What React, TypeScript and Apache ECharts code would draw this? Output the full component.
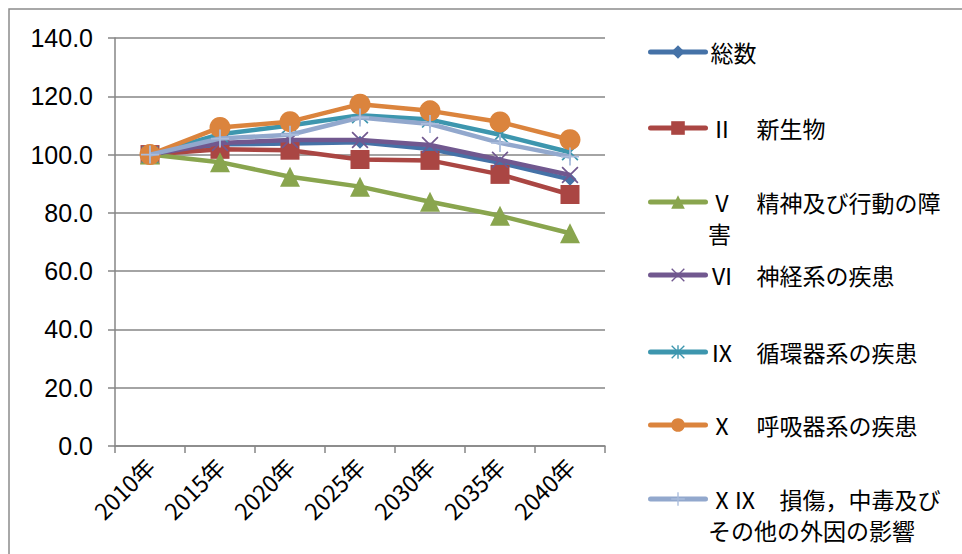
import React, { useEffect, useRef } from "react";
import * as echarts from "echarts";

const categories = ["2010年", "2015年", "2020年", "2025年", "2030年", "2035年", "2040年"];
const yTicks = [0, 20, 40, 60, 80, 100, 120, 140];

const seriesNames = [
  "総数",
  "Ⅱ　新生物",
  "Ⅴ　精神及び行動の障害",
  "Ⅵ　神経系の疾患",
  "Ⅸ　循環器系の疾患",
  "Ⅹ　呼吸器系の疾患",
  "ⅩⅨ　損傷，中毒及びその他の外因の影響",
];
const legendFirstLines = [
  "総数",
  "Ⅱ　新生物",
  "Ⅴ　精神及び行動の障",
  "Ⅵ　神経系の疾患",
  "Ⅸ　循環器系の疾患",
  "Ⅹ　呼吸器系の疾患",
  "ⅩⅨ　損傷，中毒及び",
];
const legendSecondLines = ["", "", "害", "", "", "", "その他の外因の影響"];

const totalValues = [100, 103.5, 103.8, 104.2, 101.9, 97.2, 91.5];
const neoplasmValues = [100, 101.8, 101.5, 98.3, 98.0, 93.2, 86.3];
const mentalValues = [100, 97.4, 92.4, 89.0, 83.8, 79.0, 73.0];
const nervousValues = [100, 104.0, 105.0, 105.0, 103.3, 98.2, 93.0];
const circulatoryValues = [100, 107.0, 110.0, 113.5, 112.0, 106.8, 100.8];
const respiratoryValues = [100, 109.3, 111.3, 117.3, 115.0, 111.2, 105.1];
const injuryValues = [100, 105.5, 106.8, 112.7, 110.5, 104.0, 99.3];

const allValues = [
  totalValues,
  neoplasmValues,
  mentalValues,
  nervousValues,
  circulatoryValues,
  respiratoryValues,
  injuryValues,
];

const colors = ["#4572A7", "#AA4643", "#89A54E", "#71588F", "#3D96AE", "#DB843D", "#92A8CD"];

const X_PATH =
  "path://M1.4,0 L10,8.6 L18.6,0 L20,1.4 L11.4,10 L20,18.6 L18.6,20 L10,11.4 L1.4,20 L0,18.6 L8.6,10 L0,1.4 Z";
const STAR_PATH =
  "path://M1.4,0 L10,8.6 L18.6,0 L20,1.4 L11.4,10 L20,18.6 L18.6,20 L10,11.4 L1.4,20 L0,18.6 L8.6,10 L0,1.4 Z M9,0 H11 V20 H9 Z";
const PLUS_PATH = "path://M9,0 H11 V9 H20 V11 H11 V20 H9 V11 H0 V9 H9 Z";

const symbols = ["diamond", "rect", "triangle", X_PATH, STAR_PATH, "circle", PLUS_PATH];
const symbolSizes = [13, 19, 20, 17, 17, 21, 18];
const symbolColors = ["#4572A7", "#AA4643", "#89A54E", "#71588F", "#3D96AE", "#DB843D", "#A9BCDC"];

const legendCenters = [52, 128, 202, 275, 352, 425, 499];
const secondLineCenters = [0, 0, 233, 0, 0, 0, 530];

const axisColor = "#868686";
const numFont = "'Liberation Sans', Arial, sans-serif";
const jpFont = "'Noto Sans CJK JP', 'Liberation Sans', sans-serif";

export default function App() {
  const ref = useRef<HTMLDivElement>(null);

  useEffect(() => {
    if (!ref.current) return;
    const chart = echarts.init(ref.current, null, { renderer: "svg" });

    const series = seriesNames.map((name, i) => ({
      name,
      type: "line",
      data: allValues[i],
      symbol: symbols[i],
      symbolSize: symbolSizes[i],
      showAllSymbol: true,
      lineStyle: { color: colors[i], width: 4.5 },
      itemStyle: { color: symbolColors[i], borderWidth: 0 },
      emphasis: { disabled: true },
      z: 2 + i,
    }));

    const legends = seriesNames.map((name, i) => ({
      data: [name],
      left: 648,
      top: legendCenters[i] - 12,
      padding: 0,
      itemWidth: 55,
      itemHeight: 17,
      selectedMode: false,
      formatter: () => legendFirstLines[i],
      lineStyle: { width: 5, cap: "round" },
      textStyle: { fontFamily: jpFont, fontSize: 23, color: "#000", lineHeight: 24 },
    }));

    const graphics: any[] = [
      {
        type: "rect",
        shape: { x: 9, y: 9, width: 1200, height: 800 },
        style: { fill: "none", stroke: "#8c8c8c", lineWidth: 1.5 },
        silent: true,
      },
    ];
    legendSecondLines.forEach((t, i) => {
      if (!t) return;
      graphics.push({
        type: "text",
        x: 708,
        y: secondLineCenters[i],
        style: {
          text: t,
          fontFamily: jpFont,
          fontSize: 23,
          lineHeight: 24,
          verticalAlign: "middle",
          fill: "#000",
        },
        silent: true,
      });
    });

    chart.setOption({
      animation: false,
      grid: { left: 115, top: 38, right: 357, bottom: 108, containLabel: false },
      xAxis: {
        type: "category",
        data: categories,
        boundaryGap: true,
        axisLine: { lineStyle: { color: axisColor, width: 1.5 } },
        axisTick: { show: true, length: 7, alignWithLabel: false, lineStyle: { color: axisColor, width: 1.5 } },
        axisLabel: {
          rotate: 45,
          margin: 16,
          interval: 0,
          fontFamily: jpFont,
          fontSize: 23,
          color: "#000",
        },
        splitLine: { show: false },
      },
      yAxis: {
        type: "value",
        min: yTicks[0],
        max: yTicks[yTicks.length - 1],
        interval: 20,
        axisLine: { show: true, lineStyle: { color: axisColor, width: 1.5 } },
        axisTick: { show: true, length: 7, lineStyle: { color: axisColor, width: 1.5 } },
        axisLabel: {
          margin: 22,
          fontFamily: numFont,
          fontSize: 25,
          color: "#000",
          formatter: (v: number) => v.toFixed(1),
        },
        splitLine: { show: true, lineStyle: { color: axisColor, width: 1.5 } },
      },
      legend: legends,
      graphic: graphics,
      series,
    });

    return () => chart.dispose();
  }, []);

  return (
    <div
      ref={ref}
      style={{ position: "absolute", left: 0, top: 0, width: 962, height: 554, background: "#fff" }}
    />
  );
}
